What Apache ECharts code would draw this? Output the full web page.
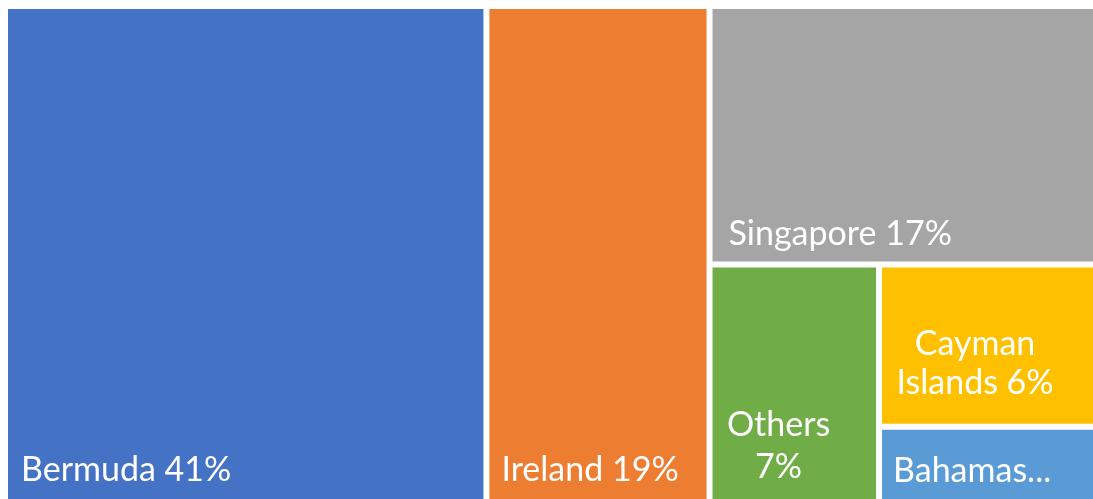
<!DOCTYPE html>
<html>
<head>
<meta charset="utf-8">
<title>Share by domicile</title>
<script src="https://cdn.jsdelivr.net/npm/echarts@6/dist/echarts.min.js"></script>
<style>
  html, body { margin: 0; padding: 0; background: #ffffff; }
  #chart { width: 1093px; height: 499px; }
</style>
</head>
<body>
<div id="chart"></div>
<script>
// Shares (%) by domicile
const names = ['Bermuda', 'Ireland', 'Singapore', 'Others', 'Cayman Islands', 'Bahamas'];
const values = [41, 19, 17, 7, 6, 3];
const colors = ['#4472C4', '#ED7D31', '#A5A5A5', '#70AD47', '#FFC000', '#5B9BD5'];

// Label placement inside each tile (offsets from the tile's inner top-left)
const labelStyle = {
  'Bermuda':        { position: [8, 461], align: 'left' },
  'Ireland':        { position: [7, 461], align: 'left' },
  'Singapore':      { position: [11, 225], align: 'left' },
  'Others':         { position: [66, 178], align: 'center', lineHeight: 42, text: 'Others\n{v}%' },
  'Cayman Islands': { position: [93, 96], align: 'center', lineHeight: 39, text: 'Cayman\nIslands {v}%' },
  'Bahamas':        { position: [6, 41], align: 'left', text: 'Bahamas...' }
};

function leaf(i) {
  const ls = labelStyle[names[i]];
  const text = (ls.text || names[i] + ' {v}%').replace('{v}', values[i]);
  return {
    name: names[i],
    value: values[i],
    itemStyle: { color: colors[i], borderWidth: 3, borderColor: '#ffffff' },
    label: {
      show: true,
      position: ls.position,
      align: ls.align,
      verticalAlign: 'middle',
      lineHeight: ls.lineHeight || 36,
      formatter: () => text
    }
  };
}

// Nested groups keep the tiles in the same arrangement: two full-height columns,
// then a top band and a split lower block.
const group = (name, children) => ({
  name,
  value: children.reduce((s, c) => s + c.value, 0),
  children
});
const treeData = [
  leaf(0),
  leaf(1),
  group('rest', [
    leaf(2),
    group('lower', [
      leaf(3),
      group('small', [leaf(4), leaf(5)])
    ])
  ])
];

const chart = echarts.init(document.getElementById('chart'), null, { renderer: 'canvas' });
chart.setOption({
  animation: false,
  backgroundColor: '#ffffff',
  series: [{
    type: 'treemap',
    left: 5,
    top: 6,
    width: 1092,
    height: 502,
    roam: false,
    nodeClick: false,
    sort: false,
    squareRatio: 1,
    breadcrumb: { show: false },
    itemStyle: { borderWidth: 0, gapWidth: 0, borderColor: '#ffffff' },
    upperLabel: { show: false },
    label: {
      color: '#ffffff',
      fontFamily: 'Lato',
      fontSize: 34,
      overflow: 'none'
    },
    data: treeData
  }]
});
</script>
</body>
</html>
